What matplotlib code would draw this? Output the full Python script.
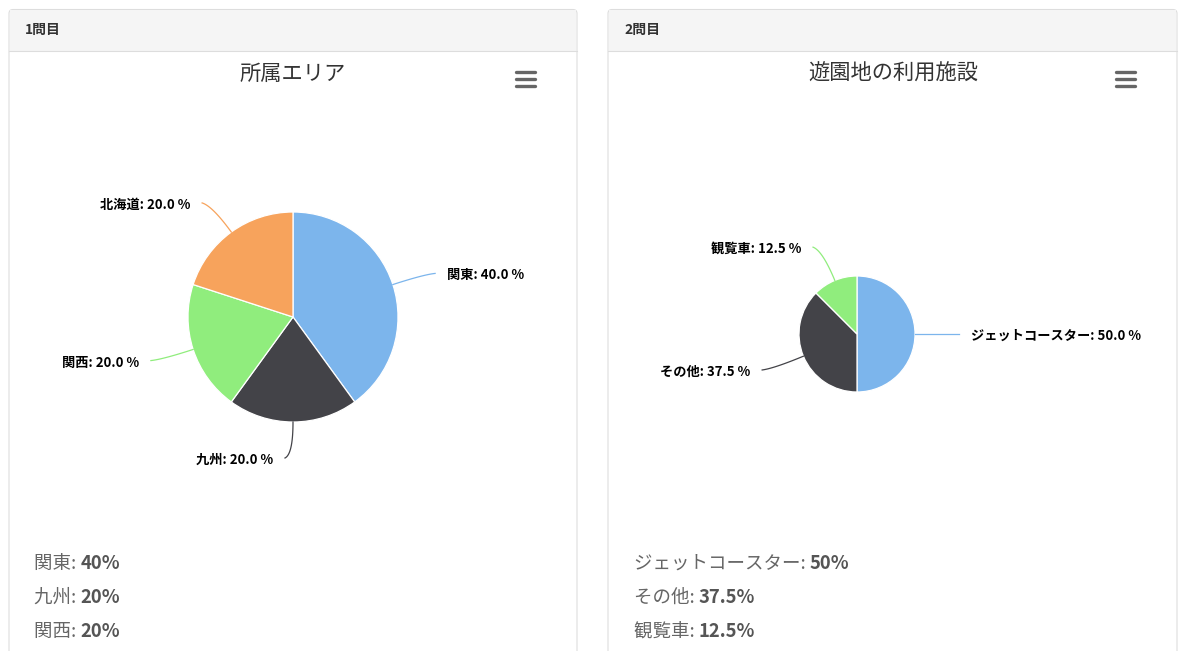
import numpy as np
import matplotlib
matplotlib.use("Agg")
from matplotlib import pyplot as plt
from matplotlib.patches import FancyBboxPatch, Rectangle

plt.rcParams['font.family'] = ['Noto Sans CJK JP', 'DejaVu Sans']

W, H = 1188, 651

COLORS = ["#7cb5ec", "#434348", "#90ed7d", "#f7a35c"]

# chart 1
headers = ["1問目", "2問目"]
titles = ["所属エリア", "遊園地の利用施設"]
area_names = ["関東", "九州", "関西", "北海道"]
area_values = [40.0, 20.0, 20.0, 20.0]
area_legend = ["40%", "20%", "20%"]
# chart 2
ride_names = ["ジェットコースター", "その他", "観覧車"]
ride_values = [50.0, 37.5, 12.5]
ride_legend = ["50%", "37.5%", "12.5%"]

fig = plt.figure(figsize=(W / 100, H / 100), dpi=100)
ax = fig.add_axes([0, 0, 1, 1])


def panel(x0, x1, header, title, title_x):
    ax.add_patch(FancyBboxPatch((x0, 9.5), x1 - x0, 700, boxstyle="round,pad=0,rounding_size=4",
                                facecolor="white", edgecolor="#dddddd", lw=0.8, zorder=0))
    ax.add_patch(Rectangle((x0 + 0.6, 10), x1 - x0 - 1.2, 41, facecolor="#f5f5f5", edgecolor="none", zorder=0.5))
    ax.plot([x0, x1], [51, 51], color="#dddddd", lw=0.8, zorder=0.6)
    ax.text(x0 + 16, 30, header, fontsize=10, fontweight="bold", color="#333333", va="center", ha="left")
    ax.text(title_x, 74, title, fontsize=15.3, color="#333333", va="center", ha="center")
    # menu icon
    for yy in (72, 79, 86):
        ax.plot([x1 - 61, x1 - 42], [yy, yy], color="#666666", lw=2.4, solid_capstyle="round")


def pie(names, values, cx, cy, r):
    wedges, _ = ax.pie(values, colors=COLORS[:len(values)], startangle=-90, counterclock=True,
                       center=(cx, cy), radius=r,
                       wedgeprops=dict(edgecolor="white", linewidth=0.9))
    for w, name, v in zip(wedges, names, values):
        th = np.deg2rad((w.theta1 + w.theta2) / 2)
        d = np.array([np.cos(th), np.sin(th)])
        side = 1 if d[0] > 1e-6 else -1
        p0 = np.array([cx, cy]) + r * d
        p1 = np.array([cx, cy]) + (r + 32) * d
        p2 = np.array([cx, cy]) + (r + 36) * d + np.array([side * 8, 0])
        t = np.linspace(0, 1, 30)[:, None]
        curve = (1 - t) ** 2 * p0 + 2 * (1 - t) * t * p1 + t ** 2 * p2
        ax.plot(curve[:, 0], curve[:, 1], color=w.get_facecolor(), lw=0.9)
        ax.text(p2[0] + side * 12, p2[1] + 2, f"{name}: {v:.1f} %", fontsize=9.5, fontweight="bold",
                color="black", ha="left" if side > 0 else "right", va="center")


def legend(x, names, vals):
    for i, (n, v) in enumerate(zip(names, vals)):
        t1 = ax.text(x, 564 + 34 * i, n + ": ", fontsize=13.3, color="#666666", va="center", ha="left")
        ax.annotate(v, xy=(1, 0), xycoords=t1, fontsize=13.3, fontweight="bold", color="#555555",
                    va="bottom", ha="left")


panel(9, 577, headers[0], titles[0], 293)
panel(608, 1177, headers[1], titles[1], 893)
pie(area_names, area_values, 293, 317, 105)
pie(ride_names, ride_values, 857, 334, 58)
legend(34, area_names, area_legend)
legend(634, ride_names, ride_legend)

ax.set_xlim(0, W)
ax.set_ylim(H, 0)
ax.set_aspect("auto")
ax.axis("off")
fig.savefig("out.png", dpi=100, facecolor="white")
